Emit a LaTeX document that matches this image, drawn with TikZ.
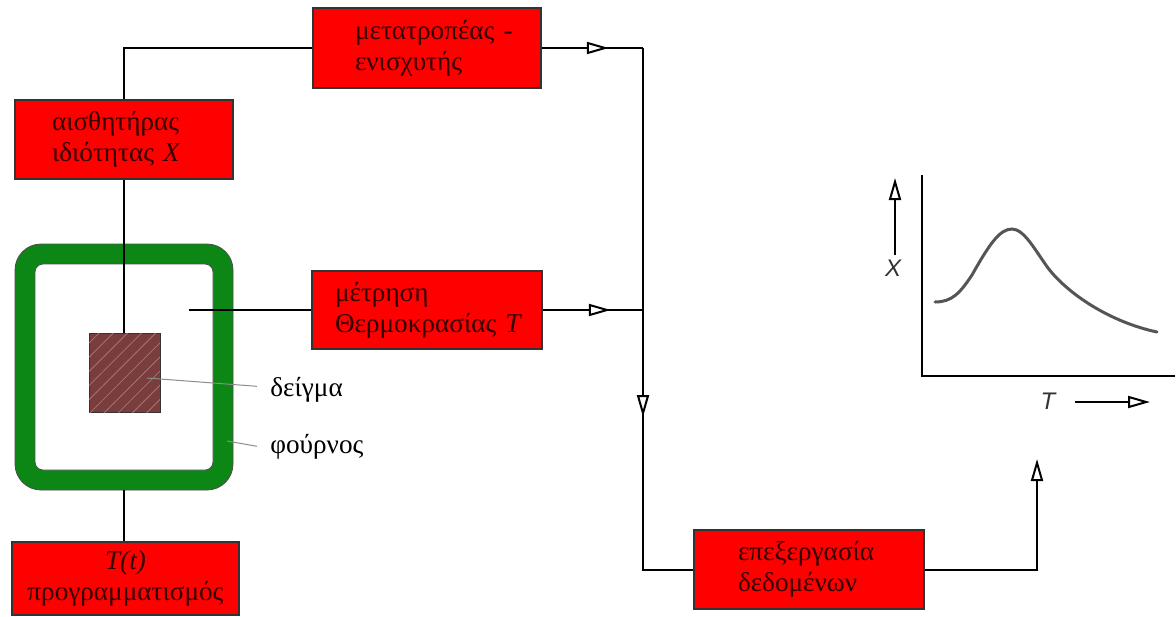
\documentclass[tikz,border=0pt]{standalone}
\usepackage{fontspec}
\setmainfont{Liberation Serif}
\newfontfamily\axisfont{Liberation Sans}
\usetikzlibrary{arrows.meta,patterns.meta,decorations.markings,calc}
\definecolor{boxred}{RGB}{255,0,0}
\definecolor{ovengreen}{RGB}{12,135,22}
\definecolor{samplebrown}{RGB}{122,60,60}
\definecolor{textdark}{RGB}{50,0,0}
\definecolor{curvegray}{RGB}{85,85,85}
\tikzset{
	block/.style={
		rectangle,
		draw=black!80,
		thick,
		fill=boxred,
		align=left,
		text=textdark,
		font=\fontsize{13.6}{15.5}\selectfont,
		inner sep=0pt,
		text width=72pt,
		minimum width=114pt,
		minimum height=39.5pt,
	},
	link/.style={
		-{Triangle[open,length=11pt,width=6pt]},
		line width=1pt,
	},
	midlink/.style={
		line width=1pt,
		postaction={decorate},
		decoration={markings,
		  mark=at position #1 with {\arrow{Triangle[open,fill=white,length=11pt,width=6pt]}}},
	},
	wire/.style={
		line width=1pt,
	},
	leader/.style={
		draw=black!45,
		line width=0.5pt,
	},
	label/.style={
		font=\fontsize{13.6}{15.5}\selectfont,
		inner sep=0pt,
	},
	axislabel/.style={
		font=\axisfont\itshape\fontsize{12}{14}\selectfont,
		text=black!80,
		inner sep=0pt,
	},
	curve/.style={
		draw=curvegray,
		line width=1.5pt,
		line cap=round,
	},
}

\begin{document}
\begin{tikzpicture}[x=0.5pt,y=-0.5pt]
	\useasboundingbox (0,0) rectangle (1176,616);

	% furnace and sample
	\node [
	  draw=black!70,
	  fill=ovengreen,
	  rounded corners=13pt,
	  minimum width=109pt,
	  minimum height=123pt,
	] (oven) at (124,367) {};
	\node [
	  draw=black!70,
	  fill=white,
	  rounded corners=4pt,
	  minimum width=89pt,
	  minimum height=103pt,
	] (ovenin) at (124,367) {};
	\node [
	  draw=black!80,
	  fill=samplebrown,
	  postaction={pattern={Lines[angle=45,distance=5pt,line width=0.4pt]},
	    pattern color=samplebrown!70!white},
	  minimum width=35.5pt,
	  minimum height=39.5pt,
	] (sample) at (124.5,372.5) {};

	% blocks
	\node [block, minimum width=109pt] (sens) at (124,139.5)
	  {αισθητήρας\\ιδιότητας~\textit{X}};
	\node [block, minimum height=40pt] (conv) at (427,48)
	  {\mbox{μετατροπέας -}\\ενισχυτής};
	\node [block, text width=92pt, minimum width=115pt, minimum height=39pt] (meas) at (427,310)
	  {μέτρηση\\\mbox{Θερμοκρασίας \textit{T}}};
	\node [block, text width=71pt, minimum width=115pt] (proc) at (809,569.5)
	  {επεξεργασία\\δεδομένων};
	\node [block, align=center, text width=100pt, minimum width=113.5pt, minimum height=36.5pt] (prog) at (125.5,578.5)
	  {\textit{T(t)}\\προγραμματισμός};

	% labels
	\node [label, anchor=base west] (deigma) at (270,396) {δείγμα};
	\node [label, anchor=base west] (fournos) at (270,453) {φούρνος};
	\coordinate (sampin) at (147,378);
	\coordinate (ovenedge) at (227,441);
	\draw [leader] (sampin) -- ($(deigma.west)+(-13,-3)$);
	\draw [leader] (ovenedge) -- ($(fournos.west)+(-13,0)$);

	% connections
	\coordinate (tprobe) at (189,310);
	\coordinate (j1) at (643,48);
	\coordinate (j2) at (643,310);
	\coordinate (a4) at (1037,459);

	\draw [wire] (sens.south) -- (sens.south |- sample.north);
	\draw [wire] (sens.north) |- (conv.west);
	\draw [wire] (tprobe) -- (meas.west);
	\draw [wire] (oven.south) -- (oven.south |- prog.north);

	\draw [midlink=33.5pt] (conv.east) -- (j1);
	\draw [midlink=34pt] (meas.east) -- (j2);
	\draw [midlink=184.5pt] (j1) |- (proc.west);
	\draw [link] (proc.east) -| (a4);

	% plot X(T)
	\coordinate (orig) at (922,376);
	\coordinate (ytop) at (922,175);
	\coordinate (xend) at (1175,376);
	\draw [wire] (ytop) -- (orig) -- (xend);
	\draw [curve] (935,302) .. controls (952,302) and (960,293) .. (972,275)
	  .. controls (990,243) and (1000,229) .. (1012,229)
	  .. controls (1024,229) and (1035,250) .. (1048,268)
	  .. controls (1068,294) and (1110,322) .. (1157,332);
	\node [axislabel] (xlab) at (893,268) {X};
	\node [axislabel] (tlab) at (1048,401) {T};
	\coordinate (xa) at (895,255);
	\coordinate (xb) at (895,178);
	\coordinate (ta) at (1075,402);
	\coordinate (tb) at (1150,402);
	\draw [link] (xa) -- (xb);
	\draw [link] (ta) -- (tb);
\end{tikzpicture}
\end{document}
